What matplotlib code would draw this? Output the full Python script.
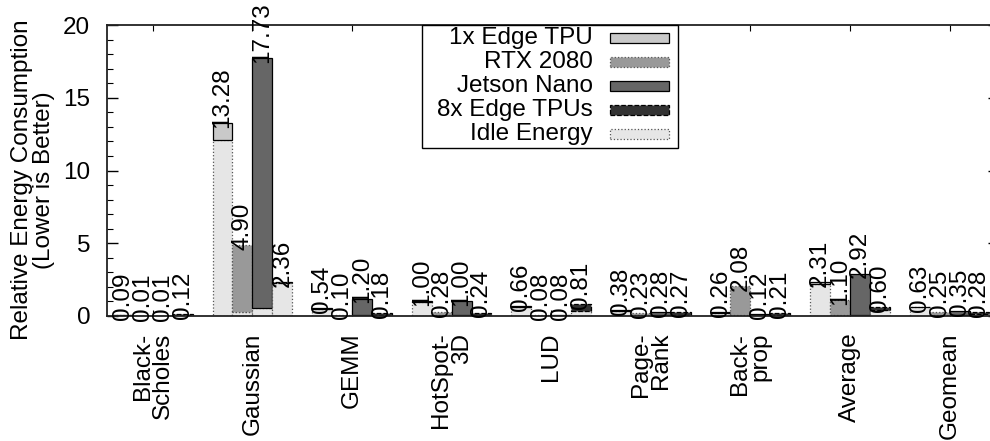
import matplotlib
matplotlib.use("Agg")
import matplotlib.pyplot as plt
import numpy as np
from matplotlib.patches import Rectangle
from matplotlib.ticker import MultipleLocator

plt.rcParams["font.family"] = ["Liberation Sans", "DejaVu Sans"]

benchmarks = ["Black-\nScholes", "Gaussian", "GEMM", "HotSpot-\n3D", "LUD",
              "Page-\nRank", "Back-\nprop", "Average", "Geomean"]
series = ["1x Edge TPU", "RTX 2080", "Jetson Nano", "8x Edge TPUs"]

# total relative energy per platform
edge1_total = [0.09, 13.28, 0.54, 1.00, 0.66, 0.38, 0.26, 2.31, 0.63]
rtx_total = [0.01, 4.90, 0.10, 0.28, 0.08, 0.23, 2.08, 1.10, 0.25]
jetson_total = [0.01, 17.73, 1.20, 1.00, 0.08, 0.28, 0.12, 2.92, 0.35]
edge8_total = [0.12, 2.36, 0.18, 0.24, 0.81, 0.27, 0.21, 0.60, 0.28]

# idle part of each total
edge1_idle = [0.07, 12.10, 0.50, 0.95, 0.62, 0.35, 0.24, 2.20, 0.60]
rtx_idle = [0.005, 0.30, 0.02, 0.10, 0.03, 0.10, 0.10, 0.10, 0.10]
jetson_idle = [0.005, 0.57, 0.05, 0.05, 0.02, 0.05, 0.05, 0.10, 0.05]
edge8_idle = [0.08, 2.28, 0.05, 0.10, 0.34, 0.10, 0.10, 0.40, 0.15]

totals = [edge1_total, rtx_total, jetson_total, edge8_total]
idles = [edge1_idle, rtx_idle, jetson_idle, edge8_idle]
colors = ["#c9c9c9", "#999999", "#666666", "#333333"]
edge_styles = [("black", "-"), ("#555555", ":"), ("black", "-"), ("black", "--")]
idle_color = "#e6e6e6"

W, H = 990, 441
fig = plt.figure(figsize=(W / 100, H / 100), dpi=100)
ax_left, ax_top, ax_bottom = 107, 25, 316
xmin, xmax = -0.46, 8.5
px_per_unit = 99.6
ax_w = (xmax - xmin) * px_per_unit
ax = fig.add_axes([ax_left / W, 1 - ax_bottom / H, ax_w / W, (ax_bottom - ax_top) / H])

x = np.arange(len(benchmarks))
bw = 0.2
fs = 17.5

for k in range(4):
    pos = x + (k - 1.5) * bw
    tot = np.array(totals[k])
    idle = np.array(idles[k])
    ec, ls = edge_styles[k]
    ax.bar(pos, idle, bw, color=idle_color, edgecolor="#555555", linestyle=":",
           linewidth=0.9, zorder=2)
    ax.bar(pos, tot - idle, bw, bottom=idle, color=colors[k], edgecolor=ec,
           linestyle=ls, linewidth=0.9, zorder=2)
    for xi, v in zip(pos, tot):
        ax.annotate(f"{v:.2f}", (xi, v), xytext=(0, -3.5), textcoords="offset points",
                    rotation=90, ha="center", va="bottom", fontsize=fs, zorder=4,
                    annotation_clip=False)

ax.set_xlim(xmin, xmax)
ax.set_ylim(0, 20)
ax.yaxis.set_major_locator(MultipleLocator(5))
ax.yaxis.set_minor_locator(MultipleLocator(1))
ax.set_xticks(x)
ax.set_xticklabels(benchmarks, rotation=90, ha="center", va="top",
                   multialignment="right", fontsize=fs, linespacing=0.9)
ax.tick_params(axis="y", which="major", direction="in", length=8, width=1,
               labelsize=fs, right=True, pad=12)
ax.tick_params(axis="y", which="minor", direction="in", length=4, width=0.8, right=True)
ax.tick_params(axis="x", which="major", direction="in", length=4, width=0.8,
               top=True, pad=12)
for s in ax.spines.values():
    s.set_linewidth(1.3)
    s.set_color("#222222")

fig.text(33 / W, 1 - 180 / H, "Relative Energy Consumption\n(Lower is Better)",
         rotation=90, ha="center", va="center", fontsize=fs, multialignment="center",
         linespacing=0.95)

# legend box drawn in figure pixels
def fx(px):
    return px / W

def fy(py):
    return 1 - py / H

leg_l, leg_r, leg_t, leg_b = 422, 678, 25, 148
fig.patches.append(Rectangle((fx(leg_l), fy(leg_b)), fx(leg_r - leg_l), (leg_b - leg_t) / H,
                             transform=fig.transFigure, facecolor="white",
                             edgecolor="black", linewidth=1.0, zorder=5))
labels = series + ["Idle Energy"]
sw_colors = colors + [idle_color]
sw_edges = edge_styles + [("#555555", ":")]
row_y = [38, 62, 86, 110, 134]
for lab, c, (ec, ls), yy in zip(labels, sw_colors, sw_edges, row_y):
    fig.text(fx(593), fy(yy), lab, ha="right", va="center", fontsize=fs, zorder=6)
    fig.patches.append(Rectangle((fx(610), fy(yy + 5)), fx(59), 10 / H,
                                 transform=fig.transFigure, facecolor=c, edgecolor=ec,
                                 linestyle=ls, linewidth=0.9, zorder=6))

fig.savefig("out.png", dpi=100)
